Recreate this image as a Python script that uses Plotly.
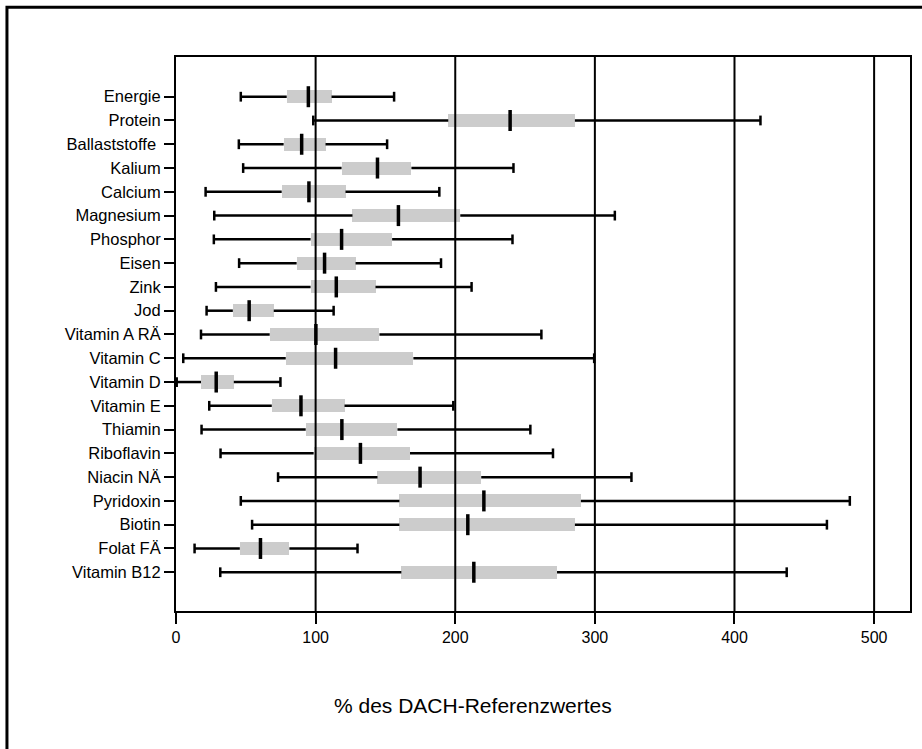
import plotly.graph_objects as go

categories = ["Energie", "Protein", "Ballaststoffe\u00a0", "Kalium", "Calcium", "Magnesium",
              "Phosphor", "Eisen", "Zink", "Jod", "Vitamin A RÄ", "Vitamin C", "Vitamin D",
              "Vitamin E", "Thiamin", "Riboflavin", "Niacin NÄ", "Pyridoxin", "Biotin",
              "Folat FÄ", "Vitamin B12"]
minimum = [46.4, 98.3, 45.0, 48.1, 21.2, 27.4, 27.1, 45.2, 28.6, 21.9, 17.9, 5.2, 0.5,
           23.8, 18.3, 31.9, 73.1, 46.4, 54.5, 13.3, 31.7]
q1 = [79.3, 195.0, 77.1, 118.6, 75.7, 126.4, 96.4, 86.4, 96.4, 40.7, 67.1, 78.6, 17.9,
      68.6, 92.9, 98.6, 144.3, 160.0, 160.0, 45.7, 161.4]
median = [94.8, 239.3, 90.0, 144.3, 95.2, 159.3, 118.6, 106.4, 114.8, 52.4, 100.2, 114.3,
          28.8, 89.5, 118.8, 132.1, 174.8, 220.5, 209.0, 60.5, 213.3]
q3 = [111.4, 285.7, 107.1, 168.6, 121.4, 203.6, 154.8, 128.6, 142.9, 70.0, 145.7, 170.0,
      41.4, 120.7, 158.6, 167.6, 218.6, 290.0, 285.7, 81.2, 272.9]
maximum = [156.2, 418.6, 151.2, 241.7, 188.6, 314.3, 241.0, 189.8, 211.7, 112.9, 261.7,
           299.5, 74.8, 198.6, 253.8, 270.0, 326.2, 482.6, 466.2, 130.0, 437.4]
x_ticks = [0, 100, 200, 300, 400, 500]
x_title = "% des DACH-Referenzwertes"

idx = list(range(len(categories)))
font = "Liberation Sans, Arial, sans-serif"

# whisker segments (outside the box) with end caps
wx, wy = [], []
for i in idx:
    wx += [minimum[i], q1[i], None, q3[i], maximum[i], None]
    wy += [i, i, None, i, i, None]
cap_x, cap_y = [], []
for i in idx:
    cap_x += [minimum[i], maximum[i]]
    cap_y += [i, i]

fig = go.Figure()
fig.add_trace(go.Bar(
    y=idx, x=[q3[i] - q1[i] for i in idx], base=q1, orientation="h",
    width=0.55, marker=dict(color="#cccccc", line=dict(width=0)),
    hoverinfo="skip", showlegend=False))
fig.add_trace(go.Scatter(
    x=wx, y=wy, mode="lines", line=dict(color="black", width=2.5),
    hoverinfo="skip", showlegend=False))
fig.add_trace(go.Scatter(
    x=cap_x, y=cap_y, mode="markers",
    marker=dict(symbol="line-ns", size=7, line=dict(color="black", width=2.5)),
    hoverinfo="skip", showlegend=False))
fig.add_trace(go.Scatter(
    x=median, y=idx, mode="markers",
    marker=dict(symbol="line-ns", size=15, line=dict(color="black", width=3.5)),
    hoverinfo="skip", showlegend=False))

# vertical gridlines at the tick values, drawn above the boxes
for t in x_ticks[1:]:
    fig.add_shape(type="line", xref="x", yref="paper", x0=t, x1=t, y0=0, y1=1,
                  line=dict(color="black", width=2), layer="above")

# outer frame
fig.add_shape(type="rect", xref="paper", yref="paper",
              x0=-0.2303, x1=1.03, y0=-0.27, y1=1.0897,
              line=dict(color="black", width=3), layer="above")

fig.add_annotation(text=x_title, xref="paper", yref="paper", x=0.405, y=-0.1706,
                   xanchor="center", yanchor="middle", showarrow=False,
                   font=dict(family=font, size=21, color="black"))

fig.update_layout(
    width=922, height=749,
    margin=dict(l=176, r=10, t=57, b=138),
    paper_bgcolor="white", plot_bgcolor="white",
    bargap=0,
    xaxis=dict(range=[0, 525.7], tickvals=x_ticks, ticktext=[str(t) for t in x_ticks],
               showgrid=False, zeroline=False, showline=True, linecolor="black",
               linewidth=2, mirror=True, ticks="outside", ticklen=11, tickwidth=2,
               tickcolor="black", tickfont=dict(family=font, size=16, color="black")),
    yaxis=dict(range=[21.63, -1.67], tickvals=idx, ticktext=categories,
               showgrid=False, zeroline=False, showline=True, linecolor="black",
               linewidth=2, mirror=True, ticks="outside", ticklen=10, tickwidth=2,
               tickcolor="black", tickfont=dict(family=font, size=16.5, color="black")),
)

fig.write_html("out.html", config={"displayModeBar": False},
               post_script="document.body.style.margin='0';")
